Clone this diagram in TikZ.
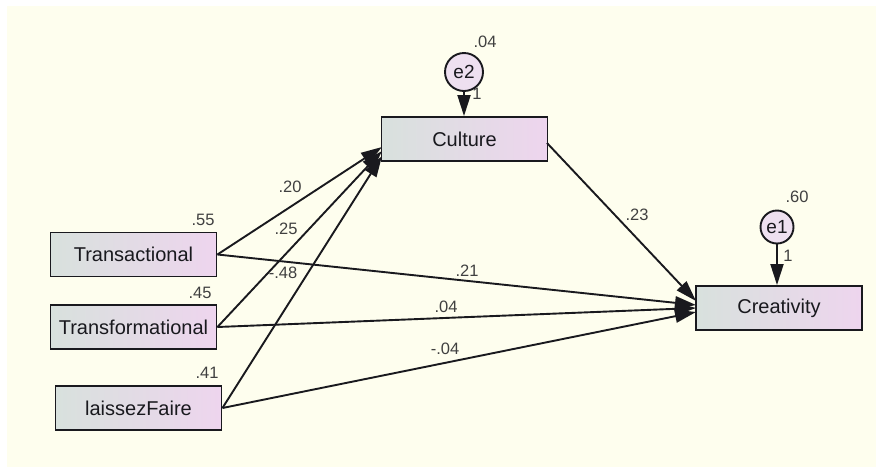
\documentclass[tikz,border=0pt]{standalone}
\usepackage{fontspec}
\setmainfont{Liberation Sans}
\usetikzlibrary{arrows.meta}
\definecolor{cream}{RGB}{254,254,238}
\definecolor{boxl}{RGB}{216,225,221}
\definecolor{boxr}{RGB}{238,213,238}
\definecolor{errfill}{RGB}{238,224,240}
\definecolor{ink}{RGB}{25,25,30}
\begin{document}
\begin{tikzpicture}[>={Triangle[length=21pt,width=13pt]},x=1pt,y=-1pt,font=\fontsize{20}{24}\selectfont,
    var/.style={draw=ink,line width=1.9pt,left color=boxl,right color=boxr,minimum width=166pt,minimum height=44pt,inner sep=0pt,text=ink},
    err/.style={draw=ink,line width=1.9pt,fill=errfill,circle,inner sep=0pt,text=ink,font=\fontsize{19}{20}\selectfont},
    coef/.style={inner sep=0pt,text=black!75,font=\fontsize{16.5}{18}\selectfont},
    path/.style={->,line width=1.9pt,draw=ink}]
    \useasboundingbox (0,0) rectangle (876,467);
    \fill[cream] (7,6) rectangle (876,467);
    % observed variables
    \node[var] (tra) at (133.5,254.5) {Transactional};
    \node[var] (trf) at (133.5,327) {Transformational};
    \node[var] (lai) at (138.5,408) {laissezFaire};
    \node[var] (cul) at (464.5,139) {Culture};
    \node[var] (cre) at (779,308) {Creativity};
    % error terms
    \node[err,minimum size=38pt] (e2) at (464,72) {e2};
    \node[err,minimum size=33pt] (e1) at (777,227) {e1};
    % arrow ends
    \coordinate (c1) at (382,147);
    \coordinate (c2) at (382,151);
    \coordinate (c3) at (382,156);
    \coordinate (k1) at (696,301);
    \coordinate (k2) at (696,305);
    \coordinate (k3) at (696,308);
    \coordinate (k4) at (696,312);
    \coordinate (cs) at (547,143);
    \draw[path] (e2.south) -- (e2.south |- cul.north);
    \draw[path] (e1.south) -- (e1.south |- cre.north);
    \draw[path] (tra.east) -- (c1);
    \draw[path] (trf.east) -- (c2);
    \draw[path] (lai.east) -- (c3);
    \draw[path] (tra.east) -- (k2);
    \draw[path] (trf.east) -- (k3);
    \draw[path] (lai.east) -- (k4);
    \draw[path] (cs) -- (k1);
    % estimates
    \foreach \n/\p/\t in {v2/{485,42}/.04,v1/{797,197}/.60,f2/{477,94}/1,f1/{788,256}/1,
        r1/{203,220}/.55,r2/{200,293}/.45,r3/{207,373}/.41,
        p1/{290,187}/.20,p2/{286,229}/.25,p3/{283,273}/-.48,p4/{637,215}/.23,
        p5/{467,271}/.21,p6/{446,307}/.04,p7/{445,349}/-.04}
    \node[coef] (\n) at (\p) {\t};
\end{tikzpicture}
\end{document}
